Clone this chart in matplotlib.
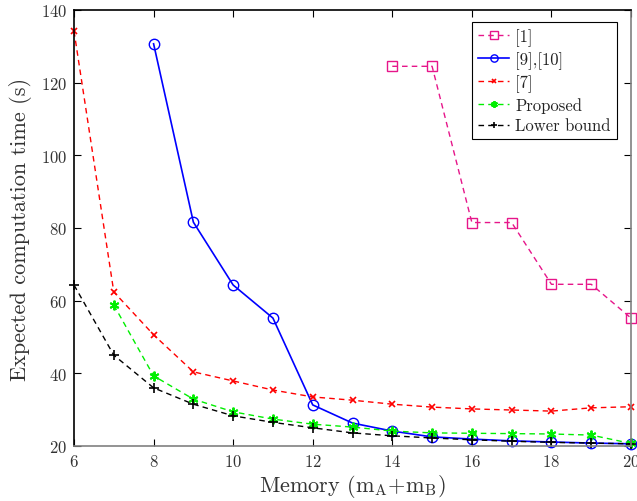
import matplotlib
matplotlib.use("Agg")

import matplotlib.pyplot as plt

plt.rcParams["font.family"] = "serif"
plt.rcParams["font.serif"] = ["cmr10", "DejaVu Serif"]
plt.rcParams["mathtext.fontset"] = "cm"
plt.rcParams["axes.unicode_minus"] = False
plt.rcParams["axes.formatter.use_mathtext"] = True

###------------------------data-----------------------------###
mem_ref1 = [14, 15, 16, 17, 18, 19, 20]
time_ref1 = [124.5, 124.5, 81.5, 81.5, 64.5, 64.5, 55.2]

mem_ref9 = [8, 9, 10, 11, 12, 13, 14, 15, 16, 17, 18, 19, 20]
time_ref9 = [130.7, 81.6, 64.3, 55.2, 31.3, 26.3, 24.1, 22.5, 21.9, 21.4, 21.1, 20.8, 20.6]

mem_ref7 = [6, 7, 8, 9, 10, 11, 12, 13, 14, 15, 16, 17, 18, 19, 20]
time_ref7 = [134.2, 62.4, 50.6, 40.4, 37.9, 35.4, 33.5, 32.6, 31.5, 30.7, 30.2, 29.9, 29.6, 30.5, 30.8]

mem_prop = [7, 8, 9, 10, 11, 12, 13, 14, 15, 16, 17, 18, 19, 20]
time_prop = [58.8, 39.3, 32.9, 29.4, 27.4, 26.0, 25.2, 24.1, 23.6, 23.5, 23.4, 23.3, 23.0, 20.7]

mem_low = [6, 7, 8, 9, 10, 11, 12, 13, 14, 15, 16, 17, 18, 19, 20]
time_low = [64.3, 45.0, 36.0, 31.5, 28.3, 26.5, 25.0, 23.6, 22.8, 22.2, 21.7, 21.3, 21.0, 20.8, 20.6]

###------------------------figure---------------------------###
fig = plt.figure(figsize=(6.37, 5.02), dpi=100)
ax = fig.add_axes([0.1162, 0.1096, 0.8744, 0.8685])

ax.plot(mem_ref1, time_ref1, color="#e6168a", ls=(0, (4, 3)), lw=1.0,
        marker="s", ms=7.5, mfc="none", mew=1.0, label="[1]", clip_on=False)
ax.plot(mem_ref9, time_ref9, color="#0000ff", ls="-", lw=1.2,
        marker="o", ms=7.5, mfc="none", mew=1.0, label="[9],[10]", clip_on=False)
ax.plot(mem_ref7, time_ref7, color="#ff0000", ls=(0, (4, 3)), lw=1.0,
        marker="x", ms=5, mew=1.2, label="[7]", clip_on=False)
ax.plot(mem_prop, time_prop, color="#00ee00", ls=(0, (4, 3)), lw=1.0,
        marker=(6, 2, 0), ms=7, mew=1.4, label="Proposed", clip_on=False)
ax.plot(mem_low, time_low, color="black", ls=(0, (4, 3)), lw=1.0,
        marker="+", ms=7, mew=1.2, label="Lower bound", clip_on=False)

ax.set_xlim(6, 20)
ax.set_ylim(20, 140)
ax.set_xticks(range(6, 21, 2))
ax.set_yticks(range(20, 141, 20))

ax.tick_params(direction="in", top=True, right=True, length=5,
               labelsize=12, labelcolor="#333333", pad=5)
ax.spines["top"].set_color("black")
ax.spines["left"].set_color("black")
ax.spines["right"].set_color("#808080")
ax.spines["bottom"].set_color("#808080")
for s in ax.spines.values():
    s.set_linewidth(1.2)

ax.set_xlabel(r"Memory ($\mathrm{m_A}$+$\mathrm{m_B}$)", fontsize=16,
              color="#333333", labelpad=2)
ax.set_ylabel("Expected computation time (s)", fontsize=16,
              color="#333333", labelpad=6)

leg = ax.legend(loc="upper right", bbox_to_anchor=(0.983, 0.984),
                fontsize=12, fancybox=False, framealpha=1,
                edgecolor="black", borderpad=0.35, labelspacing=0.32,
                handlelength=1.9, handletextpad=0.35, borderaxespad=0.3,
                markerscale=0.7)
leg.get_frame().set_linewidth(0.8)
for t in leg.get_texts():
    t.set_color("#222222")

fig.savefig("out.png", dpi=100)
